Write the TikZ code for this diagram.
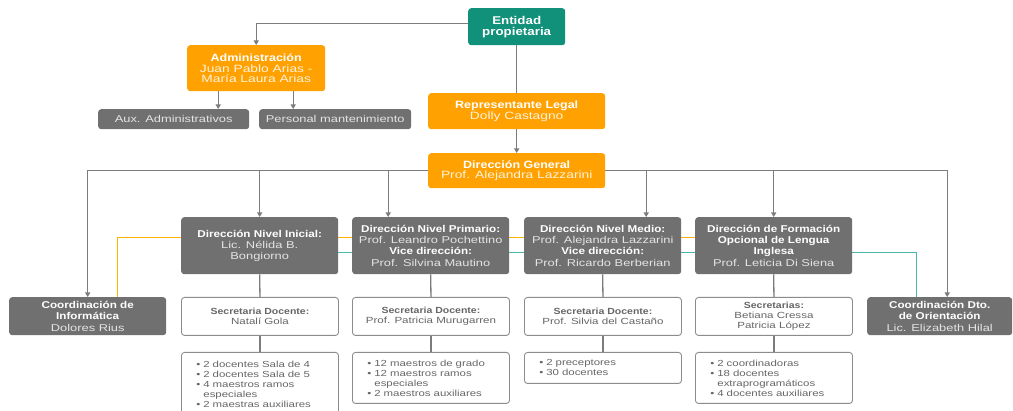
\documentclass[tikz,border=0pt]{standalone}
\usepackage{fontspec}
\setmainfont{Liberation Sans}[UprightFeatures={FakeStretch=1.3},BoldFeatures={FakeStretch=1.18}]
\usetikzlibrary{arrows.meta,backgrounds,calc}
\definecolor{cgreen}{HTML}{11907A}
\definecolor{corange}{HTML}{FFA100}
\definecolor{cgray}{HTML}{707070}
\definecolor{cline}{HTML}{7C7C7C}
\definecolor{cborder}{HTML}{8C8C8C}
\definecolor{ctext}{HTML}{666666}
\definecolor{cname}{HTML}{E4E4E4}
\definecolor{ocream}{HTML}{FFF3DC}
\definecolor{othin}{HTML}{FFB300}
\definecolor{tthin}{HTML}{4DB6AC}
\newcommand\nmg[1]{{\color{cname}#1}}
\newcommand\nmo[1]{{\color{ocream}#1}}
\tikzset{
  box/.style={anchor=north west, rounded corners=3pt, inner sep=0pt, align=center},
  gbox/.style={box, fill=cgray, text=white, font=\fontsize{9.9}{11.3}\selectfont},
  obox/.style={box, fill=corange, text=white, font=\fontsize{10.6}{10.8}\selectfont},
  grbox/.style={box, fill=cgreen, text=white, font=\fontsize{11.3}{11}\selectfont\bfseries},
  wbox/.style={box, draw=cborder, line width=0.9pt, fill=white, text=ctext, font=\fontsize{8.9}{10}\selectfont},
  lbox/.style={wbox, align=left, text width=127pt, inner xsep=15pt, font=\fontsize{8.8}{10}\selectfont},
  conn/.style={draw=cline, line width=1.3pt},
  arr/.style={conn, -{Triangle[length=4.5pt,width=5pt]}},
  oline/.style={draw=othin, line width=0.9pt},
  tline/.style={draw=tthin, line width=0.9pt}
}
\begin{document}
\begin{tikzpicture}[x=1pt,y=-1pt]
\useasboundingbox (0,0) rectangle (1013,411);
\clip (0,0) rectangle (1013,411);
% top
\node[grbox, minimum width=97pt, minimum height=37pt] (ent) at (468,8) {Entidad\\propietaria};
\node[obox, minimum width=138pt, minimum height=46pt] (adm) at (187,45)
  {\textbf{Administración}\\\nmo{Juan Pablo Arias -}\\\nmo{María Laura Arias}};
\node[gbox, minimum width=151pt, minimum height=20pt] (aux) at (98,109) {\nmg{Aux. Administrativos}};
\node[gbox, minimum width=152pt, minimum height=20pt] (per) at (259,109) {\nmg{Personal mantenimiento}};
\node[obox, minimum width=177pt, minimum height=36pt] (rep) at (428,93)
  {\textbf{Representante Legal}\\\nmo{Dolly Castagno}};
\node[obox, minimum width=177pt, minimum height=35pt] (dg) at (428,153)
  {\textbf{Dirección General}\\\nmo{Prof. Alejandra Lazzarini}};
% directions
\node[gbox, minimum width=157pt, minimum height=57pt] (ni) at (181,217)
  {\textbf{Dirección Nivel Inicial:}\\\nmg{Lic. Nélida B.}\\\nmg{Bongiorno}};
\node[gbox, minimum width=157pt, minimum height=57pt] (np) at (352,217)
  {\textbf{Dirección Nivel Primario:}\\\nmg{Prof. Leandro Pochettino}\\\textbf{Vice dirección:}\\\nmg{Prof. Silvina Mautino}};
\node[gbox, minimum width=157pt, minimum height=57pt] (nm) at (524,217)
  {\textbf{Dirección Nivel Medio:}\\\nmg{Prof. Alejandra Lazzarini}\\\textbf{Vice dirección:}\\\nmg{Prof. Ricardo Berberian}};
\node[gbox, minimum width=157pt, minimum height=57pt] (nf) at (695,217)
  {\textbf{Dirección de Formación}\\\textbf{Opcional de Lengua}\\\textbf{Inglesa}\\\nmg{Prof. Leticia Di Siena}};
\node[gbox, minimum width=157pt, minimum height=38pt] (ci) at (9,297)
  {\textbf{Coordinación de}\\\textbf{Informática}\\\nmg{Dolores Rius}};
\node[gbox, minimum width=145pt, minimum height=38pt] (co) at (867,297)
  {\textbf{Coordinación Dto.}\\\textbf{de Orientación}\\\nmg{Lic. Elizabeth Hilal}};
% secretaries
\node[wbox, minimum width=157pt, minimum height=38pt] (s1) at (181,297)
  {\textbf{Secretaria Docente:}\\Natalí Gola};
\node[wbox, minimum width=157pt, minimum height=38pt] (s2) at (352,297)
  {\textbf{Secretaria Docente:}\\Prof. Patricia Murugarren};
\node[wbox, minimum width=157pt, minimum height=38pt] (s3) at (524,297)
  {\textbf{Secretaria Docente:}\\Prof. Silvia del Castaño};
\node[wbox, minimum width=157pt, minimum height=38pt] (s4) at (695,297)
  {\textbf{Secretarias:}\\Betiana Cressa\\Patricia López};
% lists
\node[lbox, minimum width=157pt, minimum height=63pt] (l1) at (181,352)
  {• 2 docentes Sala de 4\\• 2 docentes Sala de 5\\• 4 maestros ramos\\\phantom{• }especiales\\• 2 maestras auxiliares};
\node[lbox, minimum width=157pt, minimum height=51pt] (l2) at (352,352)
  {• 12 maestros de grado\\• 12 maestros ramos\\\phantom{• }especiales\\• 2 maestros auxiliares};
\node[lbox, minimum width=157pt, minimum height=31pt] (l3) at (524,352)
  {• 2 preceptores\\• 30 docentes};
\node[lbox, minimum width=157pt, minimum height=51pt] (l4) at (695,352)
  {• 2 coordinadoras\\• 18 docentes\\\phantom{• }extraprogramáticos\\• 4 docentes auxiliares};
% helper points
\path ([xshift=-38pt]adm.south) coordinate (a1) ([xshift=37pt]adm.south) coordinate (a2);
\path ([xshift=-42.5pt]np.north) coordinate (npT) ([xshift=43.5pt]nm.north) coordinate (nmT)
      ([xshift=7.5pt]co.north) coordinate (coT);
\coordinate (jp) at (npT |- dg.west);
\coordinate (jm) at (nmT |- dg.west);
\path ([xshift=29.5pt]ci.north) coordinate (ciO) ([xshift=-23.5pt]co.north) coordinate (coL);
\begin{scope}[on background layer]
\fill[white] (0,0) rectangle (1013,411);
\draw[oline] (ciO) |- ([yshift=8.5pt]nf.west);
\draw[tline] ([yshift=-6.5pt]ni.east) -| (coL);
\draw[arr] ([yshift=3pt]ent.west) -| (adm.north);
\draw[arr] (a1) -- (a1 |- aux.north);
\draw[arr] (a2) -- (a2 |- per.north);
\draw[conn] (ent.south) -- (rep.north);
\draw[arr] (rep.south) -- (dg.north);
\draw[arr] (dg.west) -| (ci.north);
\draw[arr] (dg.west) -| (ni.north);
\draw[arr] (jp) -- (npT);
\draw[arr] (dg.east) -| (coT);
\draw[arr] (dg.east) -| (nf.north);
\draw[arr] (jm) -- (nmT);
\draw[conn] (ni.south) -- (s1.north);
\draw[conn] (np.south) -- (s2.north);
\draw[conn] (nm.south) -- (s3.north);
\draw[conn] (nf.south) -- (s4.north);
\draw[conn] (s1.south) -- (l1.north);
\draw[conn] (s2.south) -- (l2.north);
\draw[conn] (s3.south) -- (l3.north);
\draw[conn] (s4.south) -- (l4.north);
\end{scope}
\end{tikzpicture}
\end{document}
